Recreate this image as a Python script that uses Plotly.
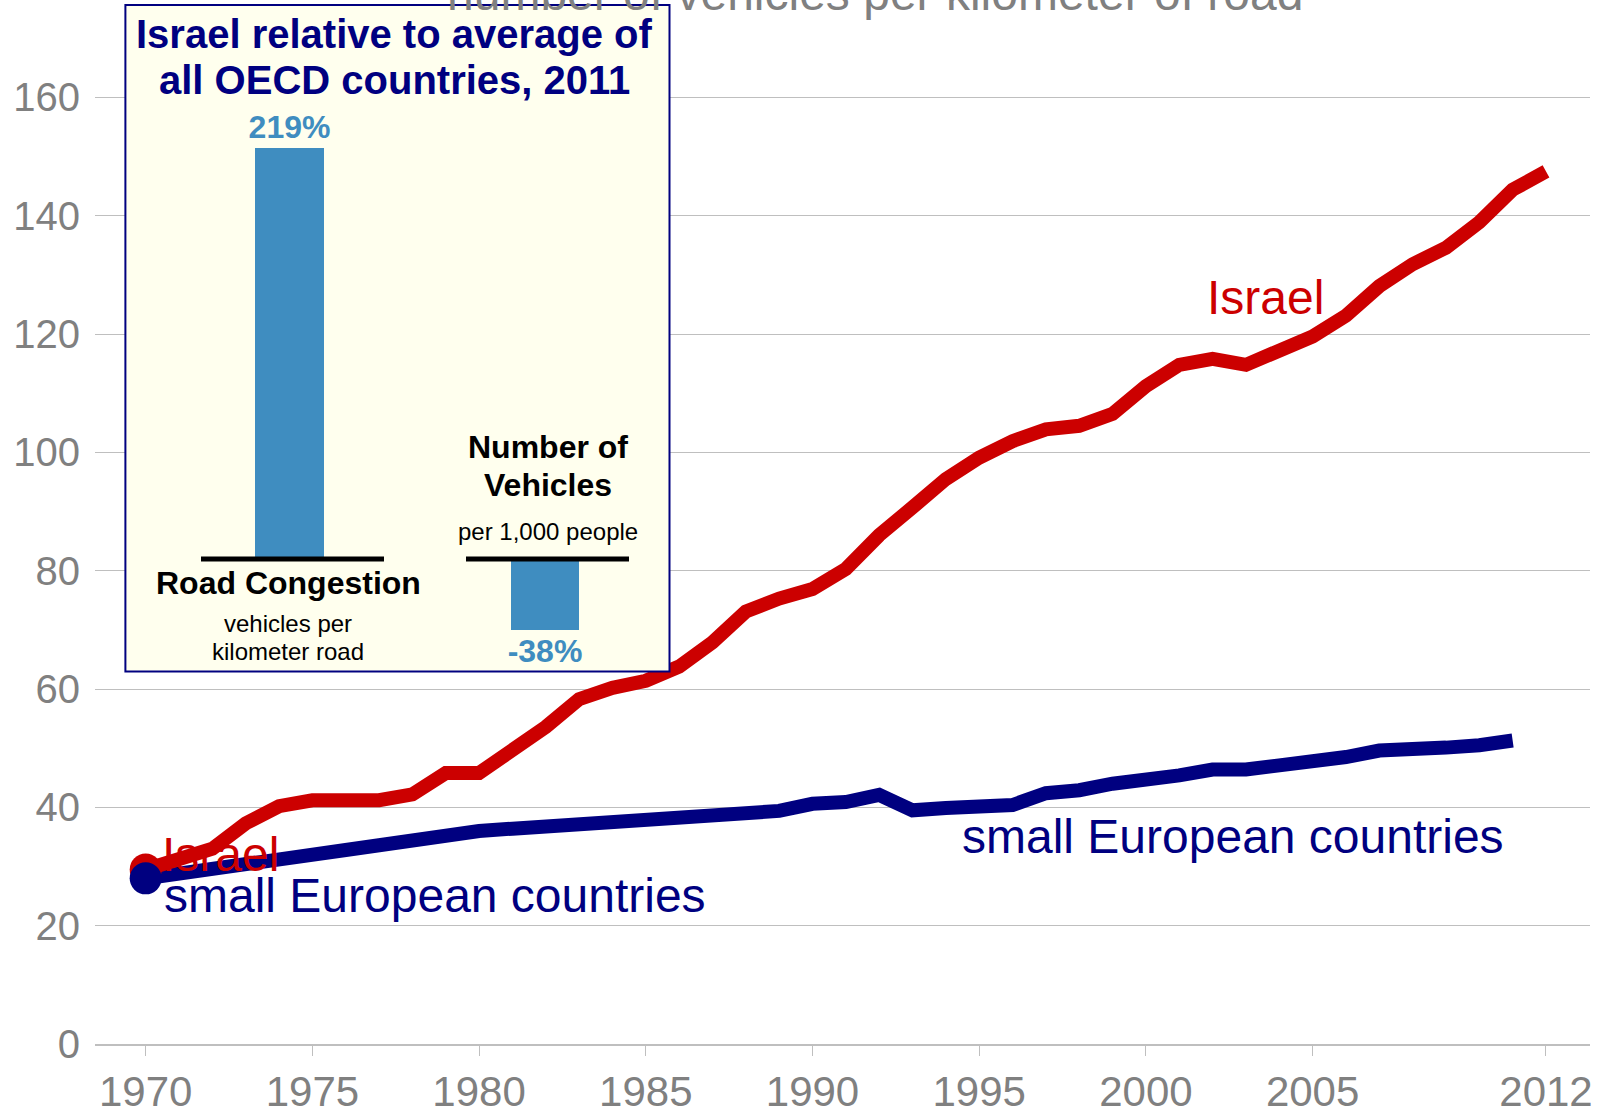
import plotly.graph_objects as go

# ---------------- data ----------------
israel_years = [1970, 1971, 1972, 1973, 1974, 1975, 1976, 1977, 1978, 1979,
                1980, 1981, 1982, 1983, 1984, 1985, 1986, 1987, 1988, 1989,
                1990, 1991, 1992, 1993, 1994, 1995, 1996, 1997, 1998, 1999,
                2000, 2001, 2002, 2003, 2004, 2005, 2006, 2007, 2008, 2009,
                2010, 2011, 2012]
israel_values = [29.5, 31.0, 33.0, 37.3, 40.2, 41.2, 41.2, 41.2, 42.2, 45.8,
                 45.8, 49.6, 53.6, 58.3, 60.2, 61.4, 63.8, 67.9, 73.1, 75.3,
                 76.9, 80.3, 86.0, 90.7, 95.5, 99.1, 101.9, 103.9, 104.5, 106.5,
                 111.2, 114.8, 115.8, 114.8, 116.9, 119.6, 123.1, 128.1, 131.8, 134.6,
                 138.9, 144.4, 147.5]

europe_years = [1970, 1971, 1972, 1973, 1974, 1975, 1976, 1977, 1978, 1979,
                1980, 1981, 1982, 1983, 1984, 1985, 1986, 1987, 1988, 1989,
                1990, 1991, 1992, 1993, 1994, 1995, 1996, 1997, 1998, 1999,
                2000, 2001, 2002, 2003, 2004, 2005, 2006, 2007, 2008, 2009,
                2010, 2011]
europe_values = [28.0, 28.9, 29.7, 30.5, 31.3, 32.0, 32.8, 33.6, 34.5, 35.3,
                 36.0, 36.4, 36.8, 37.2, 37.6, 38.0, 38.4, 38.7, 39.0, 39.4,
                 40.6, 40.9, 42.1, 39.5, 39.9, 39.9, 40.4, 42.4, 42.9, 44.0,
                 44.5, 45.4, 46.4, 46.4, 47.1, 47.6, 48.5, 49.6, 49.6, 50.1,
                 50.5, 51.3]

x_tick_vals = [1970, 1975, 1980, 1985, 1990, 1995, 2000, 2005, 2012]
x_tick_text = ["1970", "1975", "1980", "1985", "1990", "1995", "2000", "2005", "2012"]
y_tick_vals = [0, 20, 40, 60, 80, 100, 120, 140, 160]

inset_categories = ["Road Congestion", "Number of Vehicles"]
inset_values = [219, -38]

# ---------------- styling ----------------
FONT = "Liberation Sans, Arial, sans-serif"
RED = "#CC0000"
NAVY = "#000080"
GRAY = "#808080"
GRID = "#BFBFBF"
BLUE = "#3F8DC0"
IVORY = "#FFFFEE"

W, H = 1598, 1107
ML, MR, MT, MB = 95, 8, 0, 63
PW = W - ML - MR
PH = H - MT - MB


def px_x(p):
    return (p - ML) / PW


def px_y(p):
    return (H - MB - p) / PH


# inset axes geometry (pixel based)
X2_ZERO, X2_SCALE = 289.5, 255.5
Y2_ZERO, Y2_SCALE = 559.0, 1.8767


def ix(p):
    return (p - X2_ZERO) / X2_SCALE


def iy(p):
    return (Y2_ZERO - p) / Y2_SCALE


fig = go.Figure()

fig.add_trace(go.Scatter(x=europe_years, y=europe_values, mode="lines",
                         line=dict(color=NAVY, width=14), showlegend=False,
                         hoverinfo="skip"))
fig.add_trace(go.Scatter(x=israel_years, y=israel_values, mode="lines",
                         line=dict(color=RED, width=14), showlegend=False,
                         hoverinfo="skip"))
fig.add_trace(go.Scatter(x=israel_years[:1], y=israel_values[:1], mode="markers",
                         marker=dict(color=RED, size=32), showlegend=False,
                         hoverinfo="skip"))
fig.add_trace(go.Scatter(x=europe_years[:1], y=europe_values[:1], mode="markers",
                         marker=dict(color=NAVY, size=32), showlegend=False,
                         hoverinfo="skip"))

# inset bars
fig.add_trace(go.Bar(x=[0, 1], y=inset_values, width=0.27,
                     marker=dict(color=BLUE, line=dict(width=0)),
                     text=[f"{v}%" for v in inset_values],
                     textposition="outside", constraintext="none",
                     textfont=dict(family=FONT, size=32, color=BLUE, weight="bold"),
                     cliponaxis=False,
                     xaxis="x2", yaxis="y2", showlegend=False, hoverinfo="skip"))

fig.update_layout(
    width=W, height=H,
    margin=dict(l=ML, r=MR, t=MT, b=MB, autoexpand=False),
    paper_bgcolor="white",
    plot_bgcolor="rgba(0,0,0,0)",
    font=dict(family=FONT, color=GRAY),
    xaxis=dict(range=[1968.48, 2013.32], tickvals=x_tick_vals, ticktext=x_tick_text,
               showgrid=False, zeroline=False, showline=True, linecolor=GRID,
               linewidth=2, ticks="outside", ticklen=10, tickwidth=1.2,
               tickcolor=GRID, automargin=False,
               tickfont=dict(size=42, color=GRAY, family=FONT)),
    yaxis=dict(range=[0, 176.47], tickvals=y_tick_vals, showgrid=True,
               gridcolor=GRID, gridwidth=1.2, zeroline=False, showline=False,
               ticks="", ticklabelstandoff=14, automargin=False,
               tickfont=dict(size=40, color=GRAY, family=FONT)),
    xaxis2=dict(domain=[px_x(123), px_x(672)], range=[ix(123), ix(672)],
                anchor="y2", visible=False, fixedrange=True),
    yaxis2=dict(domain=[px_y(674), px_y(3)], range=[iy(674), iy(3)],
                anchor="x2", visible=False, fixedrange=True),
    bargap=0,
)

# inset box (drawn in the inset subplot below its bars, above main plot)
fig.add_shape(type="rect", xref="x2", yref="y2",
              x0=ix(125.4), x1=ix(669.5), y0=iy(671.6), y1=iy(5.1),
              fillcolor=IVORY, line=dict(color=NAVY, width=2), layer="below")
# zero baselines in the inset
fig.add_shape(type="line", xref="x2", yref="y2", x0=ix(201), x1=ix(384), y0=0, y1=0,
              line=dict(color="black", width=5), layer="above")
fig.add_shape(type="line", xref="x2", yref="y2", x0=ix(466), x1=ix(629), y0=0, y1=0,
              line=dict(color="black", width=5), layer="above")


def ann(text, x, y, size, color, bold=False, xanchor="center"):
    fig.add_annotation(text=text, xref="paper", yref="paper", x=px_x(x), y=px_y(y),
                       xanchor=xanchor, yanchor="middle", showarrow=False,
                       font=dict(family=FONT, size=size, color=color,
                                 weight="bold" if bold else "normal"))


# top (cut-off) title
ann("number of vehicles per kilometer of road", 875, -6, 48, GRAY)

# inset texts
ann("Israel relative to average of", 394, 34, 40, NAVY, bold=True)
ann("all OECD countries, 2011", 394, 80, 40, NAVY, bold=True)
ann("Road Congestion", 288, 583, 32, "black", bold=True)
ann("vehicles per", 288, 623, 24, "black")
ann("kilometer road", 288, 651, 24, "black")
ann("Number of", 548, 447, 32, "black", bold=True)
ann("Vehicles", 548, 485, 32, "black", bold=True)
ann("per 1,000 people", 548, 531, 24, "black")

# series labels
ann("Israel", 160, 854, 48, RED, xanchor="left")
ann("small European countries", 162, 895, 48, NAVY, xanchor="left")
ann("Israel", 1205, 298, 48, RED, xanchor="left")
ann("small European countries", 960, 836, 48, NAVY, xanchor="left")

fig.write_html("out.html", config={"displayModeBar": False},
               post_script="document.body.style.margin='0';document.body.style.overflow='hidden';")
